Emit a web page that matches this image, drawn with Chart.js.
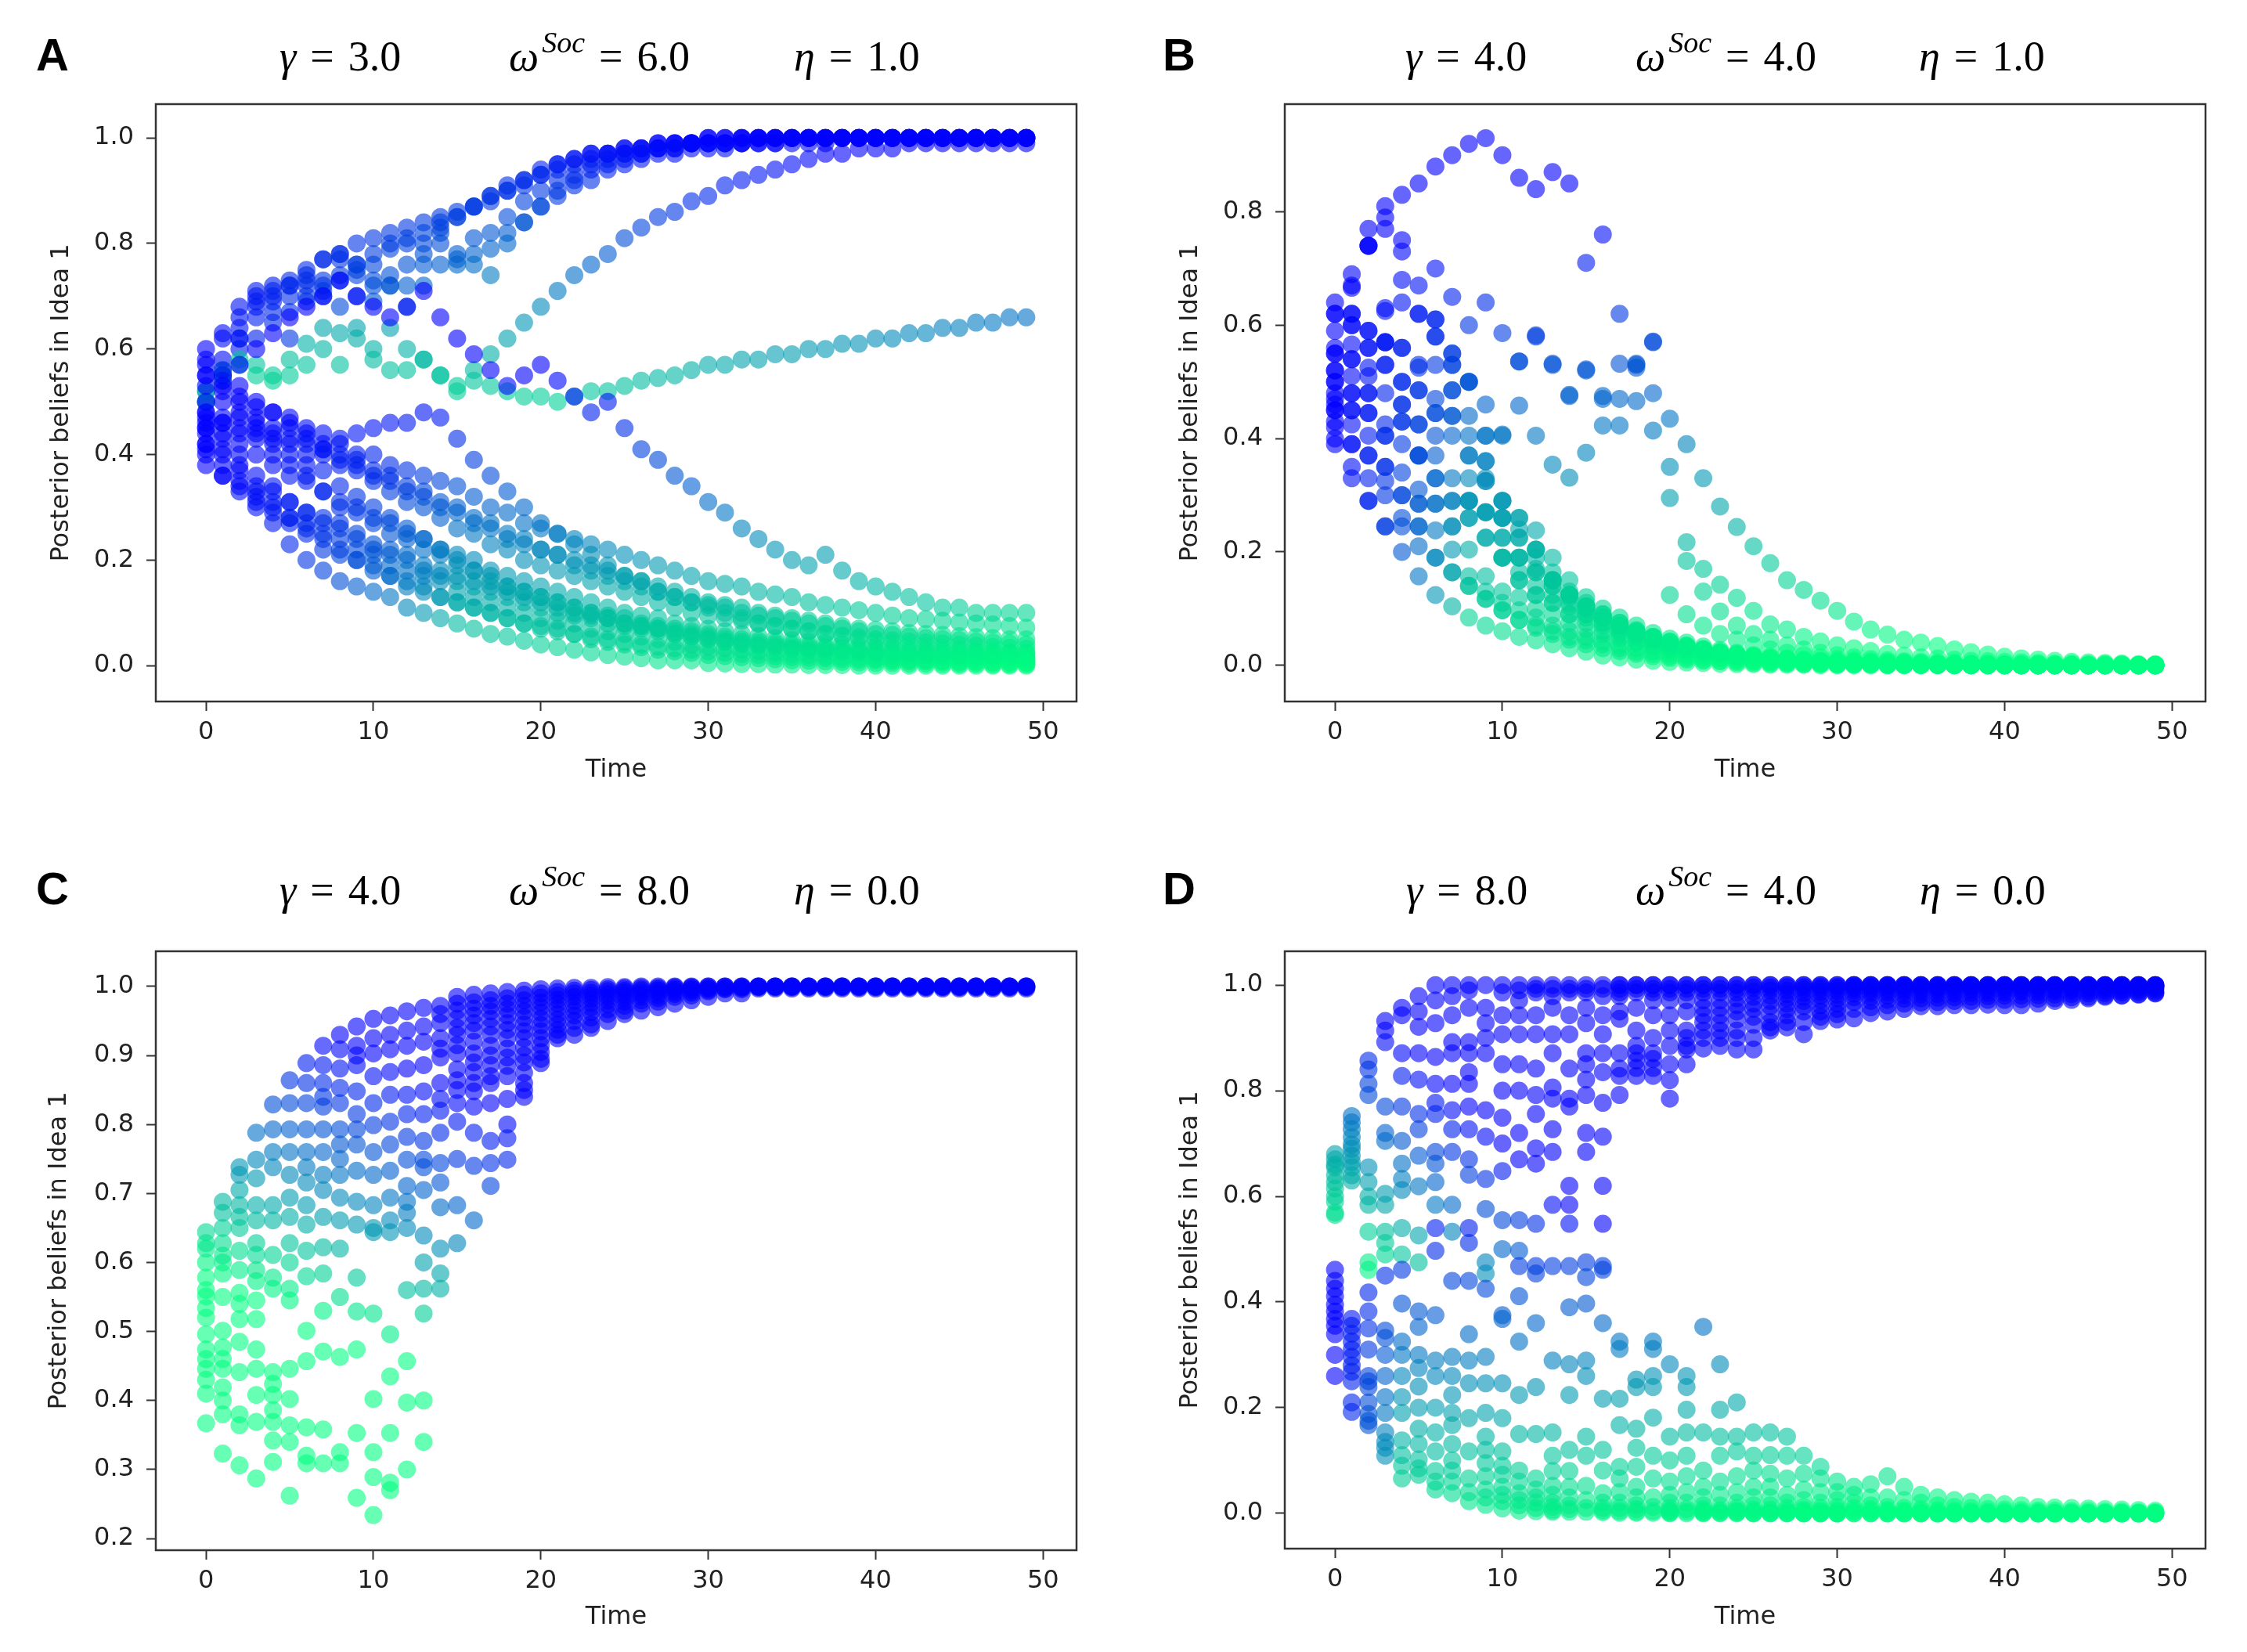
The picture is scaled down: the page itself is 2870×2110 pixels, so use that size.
<!DOCTYPE html>
<html>
<head>
<meta charset="utf-8">
<script src="https://cdn.jsdelivr.net/npm/chart.js@4.4.1/dist/chart.umd.min.js"></script>
<style>
  html, body { margin: 0; padding: 0; background: #fff; }
  #grid { position: relative; width: 2870px; height: 2110px; }
  .cell { position: absolute; width: 1435px; height: 1055px; }
</style>
</head>
<body>
<div id="grid">
  <div class="cell" style="left:0;top:0"><canvas id="panelA"></canvas></div>
  <div class="cell" style="left:1435px;top:0"><canvas id="panelB"></canvas></div>
  <div class="cell" style="left:0;top:1055px"><canvas id="panelC"></canvas></div>
  <div class="cell" style="left:1435px;top:1055px"><canvas id="panelD"></canvas></div>
</div>
<script>
"use strict";

// ---- data ----
const timeSteps = [0,1,2,3,4,5,6,7,8,9,10,11,12,13,14,15,16,17,18,19,20,21,22,23,24,25,26,27,28,29,30,31,32,33,34,35,36,37,38,39,40,41,42,43,44,45,46,47,48,49];
const timeTicks = [0, 10, 20, 30, 40, 50];
const ticksA = [0.0, 0.2, 0.4, 0.6, 0.8, 1.0];
const ticksB = [0.0, 0.2, 0.4, 0.6, 0.8];
const ticksC = [0.2, 0.3, 0.4, 0.5, 0.6, 0.7, 0.8, 0.9, 1.0];
const ticksD = [0.0, 0.2, 0.4, 0.6, 0.8, 1.0];

const panelLetters = ['A', 'B', 'C', 'D'];
const gammaValues = ['3.0', '4.0', '4.0', '8.0'];
const omegaValues = ['6.0', '4.0', '8.0', '4.0'];
const etaValues = ['1.0', '1.0', '0.0', '0.0'];

// panel A: one row per agent, one value per time step
const riseAgentsA = [
  [0.50,0.63,0.68,0.71,0.71,0.73,0.74,0.77,0.78,0.80, 0.81,0.82,0.83,0.84,0.85,0.86,0.87,0.89,0.91,0.92, 0.94,0.95,0.96,0.97,0.97,0.98,0.98,0.99,0.99,0.99, 1,1,1,1,1,1,1,1,1,1, 1,1,1,1,1,1,1,1,1,1],
  [0.55,0.58,0.66,0.70,0.69,0.72,0.73,0.70,0.77,0.75, 0.72,0.72,0.76,0.80,0.83,0.85,0.87,0.88,0.90,0.91, 0.93,0.94,0.95,0.96,0.97,0.97,0.98,0.98,0.99,0.99, 0.99,0.99,1,1,1,1,1,1,1,1, 1,1,1,1,1,1,1,1,1,1],
  [0.45,0.55,0.62,0.66,0.67,0.62,0.69,0.77,0.73,0.70, 0.69,0.72,0.68,0.72,0.76,0.76,0.78,0.82,0.85,0.88, 0.90,0.92,0.93,0.95,0.96,0.97,0.97,0.98,0.98,0.99, 0.99,0.99,0.99,0.99,0.99,1,1,1,1,1, 1,1,1,1,1,1,1,1,1,1],
  [0.52,0.55,0.60,0.62,0.65,0.67,0.70,0.71,0.74,0.76, 0.78,0.79,0.80,0.78,0.82,0.78,0.81,0.79,0.82,0.84, 0.87,0.89,0.91,0.92,0.94,0.95,0.96,0.97,0.97,0.98, 0.98,0.98,0.99,0.99,0.99,0.99,0.99,0.99,1,1, 1,1,1,1,1,1,1,1,1,1],
  [0.48,0.55,0.62,0.68,0.70,0.72,0.75,0.73,0.78,0.76, 0.73,0.74,0.72,0.76,0.80,0.77,0.76,0.74,0.80,0.84, 0.87,0.90,0.92,0.94,0.95,0.96,0.97,0.98,0.98,0.99, 0.99,0.99,0.99,1,1,1,1,1,1,1, 1,1,1,1,1,1,1,1,1,1],
  [0.58,0.62,0.64,0.69,0.72,0.70,0.72,0.72,0.68,0.74, 0.76,0.80,0.81,0.82,0.84,0.85,0.87,0.89,0.90,0.92, 0.93,0.95,0.96,0.97,0.97,0.98,0.98,0.99,0.99,0.99, 1,1,1,1,1,1,1,1,1,1, 1,1,1,1,1,1,1,1,1,1]
];
const driftAgentsA = [
  [0.52,0.56,0.58,0.57,0.55,0.58,0.61,0.64,0.63,0.64, 0.60,0.64,0.60,0.58,0.55,0.53,0.56,0.59,0.62,0.65, 0.68,0.71,0.74,0.76,0.78,0.81,0.83,0.85,0.86,0.88, 0.89,0.91,0.92,0.93,0.94,0.95,0.96,0.97,0.97,0.98, 0.98,0.98,0.99,0.99,0.99,0.99,0.99,0.99,0.99,0.99],
  [0.50,0.54,0.57,0.55,0.54,0.55,0.57,0.60,0.57,0.62, 0.58,0.56,0.56,0.58,0.55,0.52,0.54,0.53,0.52,0.51, 0.51,0.50,0.51,0.52,0.52,0.53,0.54,0.545,0.55,0.56, 0.57,0.57,0.58,0.58,0.59,0.59,0.60,0.60,0.61,0.61, 0.62,0.62,0.63,0.63,0.64,0.64,0.65,0.65,0.66,0.66]
];
const fallAgentsA = [
  [0.47,0.53,0.57,0.60,0.63,0.66,0.68,0.70,0.73,0.70, 0.68,0.66,0.68,0.71,0.66,0.62,0.59,0.56,0.53,0.55, 0.57,0.54,0.51,0.48,0.50,0.45,0.41,0.39,0.36,0.34, 0.31,0.29,0.26,0.24,0.22,0.20,0.19,0.21,0.18,0.16, 0.15,0.14,0.13,0.12,0.11,0.11,0.10,0.10,0.10,0.10],
  [0.42,0.38,0.35,0.31,0.27,0.23,0.20,0.18,0.16,0.15, 0.14,0.13,0.11,0.10,0.09,0.08,0.07,0.06,0.055,0.047, 0.04,0.035,0.03,0.025,0.02,0.017,0.014,0.01,0.01,0.01, 0.005,0.004,0.003,0.003,0.002,0.002,0.001,0.001,0.001,0, 0,0,0,0,0,0,0,0,0,0],
  [0.45,0.41,0.38,0.34,0.30,0.28,0.26,0.24,0.22,0.20, 0.19,0.17,0.16,0.15,0.13,0.12,0.11,0.10,0.09,0.08, 0.07,0.065,0.06,0.05,0.045,0.04,0.035,0.03,0.027,0.024, 0.02,0.018,0.016,0.014,0.012,0.01,0.009,0.008,0.007,0.006, 0.005,0.005,0.004,0.004,0.003,0.003,0.003,0.002,0.002,0.002],
  [0.40,0.43,0.40,0.36,0.33,0.31,0.29,0.27,0.26,0.24, 0.22,0.21,0.20,0.18,0.17,0.16,0.15,0.14,0.13,0.12, 0.11,0.10,0.095,0.09,0.08,0.075,0.07,0.065,0.06,0.055, 0.05,0.046,0.042,0.039,0.036,0.033,0.03,0.028,0.026,0.024, 0.022,0.02,0.019,0.018,0.017,0.016,0.015,0.014,0.013,0.012],
  [0.48,0.46,0.45,0.43,0.44,0.42,0.43,0.41,0.42,0.40, 0.40,0.38,0.37,0.36,0.35,0.34,0.32,0.30,0.29,0.27, 0.26,0.25,0.24,0.23,0.22,0.21,0.20,0.19,0.18,0.17, 0.16,0.155,0.15,0.14,0.135,0.13,0.12,0.115,0.11,0.105, 0.10,0.095,0.09,0.088,0.085,0.082,0.08,0.078,0.075,0.072],
  [0.53,0.50,0.48,0.47,0.45,0.46,0.44,0.42,0.40,0.38, 0.36,0.35,0.33,0.32,0.30,0.29,0.27,0.26,0.24,0.23, 0.22,0.21,0.19,0.18,0.17,0.16,0.15,0.14,0.13,0.12, 0.115,0.11,0.10,0.095,0.09,0.085,0.08,0.075,0.07,0.065, 0.06,0.058,0.055,0.052,0.05,0.048,0.046,0.044,0.042,0.04],
  [0.44,0.47,0.44,0.40,0.38,0.36,0.35,0.33,0.31,0.30, 0.28,0.27,0.25,0.24,0.22,0.21,0.20,0.18,0.17,0.16, 0.15,0.14,0.13,0.12,0.11,0.10,0.095,0.09,0.08,0.075, 0.07,0.065,0.06,0.056,0.052,0.048,0.045,0.042,0.04,0.037, 0.035,0.033,0.031,0.03,0.028,0.027,0.026,0.025,0.024,0.023],
  [0.55,0.52,0.50,0.46,0.43,0.40,0.38,0.37,0.34,0.32, 0.30,0.28,0.26,0.24,0.22,0.20,0.18,0.17,0.15,0.14, 0.13,0.12,0.11,0.10,0.09,0.08,0.075,0.07,0.06,0.055, 0.05,0.045,0.04,0.037,0.034,0.031,0.028,0.026,0.024,0.022, 0.02,0.018,0.017,0.016,0.015,0.014,0.013,0.012,0.011,0.01],
  [0.38,0.36,0.33,0.30,0.29,0.27,0.25,0.22,0.21,0.20, 0.18,0.17,0.15,0.14,0.13,0.12,0.11,0.10,0.09,0.08, 0.075,0.07,0.06,0.055,0.05,0.045,0.04,0.036,0.033,0.03, 0.027,0.024,0.022,0.02,0.018,0.016,0.015,0.014,0.012,0.011, 0.01,0.009,0.008,0.008,0.007,0.006,0.006,0.005,0.005,0.005],
  [0.50,0.46,0.42,0.44,0.40,0.38,0.36,0.33,0.30,0.29, 0.27,0.25,0.24,0.22,0.21,0.19,0.18,0.16,0.15,0.14, 0.13,0.12,0.11,0.10,0.095,0.09,0.08,0.075,0.07,0.065, 0.06,0.055,0.05,0.047,0.044,0.041,0.038,0.035,0.033,0.031, 0.029,0.027,0.025,0.024,0.022,0.021,0.02,0.019,0.018,0.017],
  [0.57,0.54,0.51,0.49,0.48,0.45,0.42,0.40,0.39,0.37, 0.35,0.33,0.31,0.30,0.28,0.26,0.25,0.23,0.22,0.20, 0.19,0.18,0.17,0.16,0.15,0.14,0.13,0.12,0.11,0.10, 0.095,0.09,0.085,0.08,0.075,0.07,0.065,0.06,0.057,0.054, 0.05,0.048,0.046,0.044,0.042,0.04,0.038,0.036,0.034,0.032],
  [0.46,0.44,0.47,0.45,0.42,0.43,0.40,0.41,0.38,0.39, 0.37,0.36,0.34,0.33,0.31,0.30,0.28,0.27,0.25,0.24, 0.22,0.21,0.20,0.19,0.18,0.17,0.16,0.15,0.14,0.13, 0.12,0.115,0.11,0.10,0.095,0.09,0.085,0.08,0.075,0.07, 0.068,0.065,0.062,0.06,0.058,0.056,0.054,0.052,0.05,0.05],
  [0.60,0.56,0.53,0.50,0.48,0.47,0.45,0.44,0.43,0.44, 0.45,0.46,0.46,0.48,0.47,0.43,0.39,0.36,0.33,0.30, 0.27,0.25,0.23,0.21,0.19,0.17,0.16,0.14,0.13,0.12, 0.11,0.10,0.09,0.08,0.075,0.07,0.065,0.06,0.055,0.05, 0.046,0.043,0.04,0.037,0.034,0.032,0.03,0.028,0.026,0.025],
  [0.42,0.40,0.37,0.33,0.31,0.28,0.27,0.25,0.24,0.22, 0.21,0.19,0.18,0.17,0.16,0.14,0.13,0.12,0.11,0.10, 0.09,0.085,0.08,0.07,0.065,0.06,0.055,0.05,0.045,0.04, 0.036,0.033,0.03,0.027,0.024,0.022,0.02,0.018,0.016,0.015, 0.013,0.012,0.011,0.01,0.009,0.008,0.008,0.007,0.007,0.006],
  [0.41,0.36,0.34,0.32,0.34,0.31,0.29,0.28,0.27,0.25, 0.23,0.22,0.21,0.19,0.18,0.17,0.16,0.15,0.14,0.13, 0.12,0.11,0.10,0.095,0.09,0.08,0.075,0.07,0.065,0.06, 0.055,0.05,0.046,0.043,0.04,0.037,0.034,0.032,0.03,0.028, 0.026,0.024,0.022,0.021,0.02,0.019,0.018,0.017,0.016,0.015]
];

// panel B: one row per agent
const slowAgentsB = [
  [0.62,0.69,0.74,0.79,0.83,0.85,0.88,0.90,0.92,0.93, 0.90,0.86,0.84,0.87,0.85,0.71,0.76,0.62,0.53,0.57, 0.435,0.39,0.33,0.28,0.244,0.21,0.18,0.15,0.133,0.114, 0.096,0.077,0.063,0.054,0.045,0.04,0.034,0.028,0.023,0.019, 0.015,0.012,0.01,0.008,0.006,0.005,0.004,0.003,0.002,0.002],
  [0.55,0.62,0.77,0.81,0.75,0.67,0.61,0.65,0.60,0.64, 0.586,0.536,0.58,0.53,0.477,0.52,0.47,0.47,0.466,0.48, 0.35,0.217,0.17,0.142,0.119,0.096,0.072,0.063,0.05,0.042, 0.035,0.03,0.025,0.02,0.017,0.014,0.012,0.01,0.008,0.007, 0.006,0.005,0.004,0.003,0.003,0.002,0.002,0.002,0.001,0.001],
  [0.50,0.67,0.74,0.77,0.73,0.62,0.58,0.55,0.50,0.46, 0.407,0.458,0.405,0.354,0.331,0.375,0.423,0.423,0.525,0.414, 0.295,0.184,0.13,0.095,0.07,0.055,0.045,0.035,0.028,0.022, 0.018,0.014,0.011,0.009,0.007,0.006,0.005,0.004,0.003,0.003, 0.002,0.002,0.002,0.001,0.001,0.001,0.001,0,0,0],
  [0.45,0.60,0.59,0.63,0.68,0.62,0.70,0.53,0.50,0.405, 0.405,0.536,0.582,0.532,0.475,0.522,0.475,0.532,0.532,0.571, 0.124,0.09,0.07,0.055,0.045,0.035,0.028,0.022,0.018,0.014, 0.011,0.009,0.007,0.006,0.005,0.004,0.003,0.003,0.002,0.002, 0.001,0.001,0.001,0.001,0,0,0,0,0,0]
];
const fastAgentsB = [
  [0.40,0.33,0.29,0.245,0.20,0.157,0.124,0.104,0.084,0.07, 0.06,0.05,0.044,0.037,0.03,0.024,0.017,0.014,0.01,0.008, 0.006,0.005,0.004,0.003,0.002,0.002,0.001,0.001,0.001,0, 0,0,0,0,0,0,0,0,0,0, 0,0,0,0,0,0,0,0,0,0],
  [0.42,0.35,0.33,0.30,0.26,0.21,0.19,0.164,0.14,0.117, 0.097,0.08,0.07,0.06,0.05,0.044,0.037,0.03,0.024,0.02, 0.016,0.013,0.01,0.008,0.007,0.006,0.005,0.004,0.003,0.003, 0.002,0.002,0.002,0.001,0.001,0.001,0.001,0,0,0, 0,0,0,0,0,0,0,0,0,0],
  [0.45,0.39,0.37,0.35,0.30,0.245,0.238,0.204,0.157,0.13, 0.11,0.097,0.084,0.07,0.06,0.05,0.042,0.035,0.03,0.025, 0.02,0.017,0.014,0.012,0.01,0.008,0.007,0.006,0.005,0.004, 0.003,0.003,0.002,0.002,0.002,0.001,0.001,0.001,0,0, 0,0,0,0,0,0,0,0,0,0],
  [0.46,0.425,0.405,0.325,0.34,0.285,0.285,0.245,0.204,0.157, 0.13,0.12,0.10,0.09,0.075,0.064,0.055,0.047,0.04,0.034, 0.028,0.024,0.02,0.017,0.014,0.012,0.01,0.008,0.007,0.006, 0.005,0.004,0.003,0.003,0.002,0.002,0.002,0.001,0.001,0.001, 0.001,0,0,0,0,0,0,0,0,0],
  [0.48,0.45,0.445,0.405,0.39,0.31,0.33,0.29,0.26,0.225, 0.19,0.15,0.124,0.11,0.09,0.084,0.07,0.057,0.044,0.037, 0.03,0.026,0.022,0.018,0.015,0.012,0.01,0.008,0.007,0.006, 0.005,0.004,0.003,0.003,0.002,0.002,0.001,0.001,0.001,0.001, 0,0,0,0,0,0,0,0,0,0],
  [0.50,0.48,0.48,0.425,0.43,0.37,0.37,0.33,0.29,0.27, 0.26,0.225,0.204,0.15,0.124,0.104,0.084,0.07,0.057,0.045, 0.037,0.03,0.025,0.02,0.016,0.013,0.01,0.008,0.007,0.006, 0.005,0.004,0.003,0.003,0.002,0.002,0.001,0.001,0.001,0.001, 0,0,0,0,0,0,0,0,0,0],
  [0.52,0.51,0.525,0.48,0.46,0.425,0.405,0.405,0.37,0.325, 0.29,0.26,0.238,0.19,0.15,0.12,0.10,0.084,0.07,0.057, 0.047,0.04,0.033,0.027,0.022,0.018,0.015,0.012,0.01,0.008, 0.007,0.006,0.005,0.004,0.003,0.003,0.002,0.002,0.002,0.001, 0.001,0.001,0.001,0,0,0,0,0,0,0],
  [0.55,0.54,0.56,0.53,0.50,0.485,0.445,0.44,0.33,0.36, 0.26,0.19,0.164,0.15,0.124,0.10,0.084,0.07,0.057,0.047, 0.038,0.031,0.026,0.021,0.017,0.014,0.011,0.009,0.007,0.006, 0.005,0.004,0.003,0.003,0.002,0.002,0.001,0.001,0.001,0.001, 0,0,0,0,0,0,0,0,0,0],
  [0.56,0.566,0.59,0.57,0.56,0.525,0.53,0.485,0.44,0.325, 0.225,0.19,0.164,0.14,0.11,0.09,0.075,0.06,0.05,0.04, 0.033,0.027,0.022,0.018,0.015,0.012,0.01,0.008,0.006,0.005, 0.004,0.003,0.003,0.002,0.002,0.001,0.001,0.001,0,0, 0,0,0,0,0,0,0,0,0,0],
  [0.59,0.60,0.48,0.405,0.50,0.425,0.47,0.53,0.405,0.36, 0.26,0.225,0.204,0.15,0.124,0.104,0.09,0.075,0.06,0.05, 0.04,0.033,0.027,0.022,0.018,0.015,0.012,0.01,0.008,0.007, 0.006,0.005,0.004,0.003,0.003,0.002,0.002,0.001,0.001,0.001, 0.001,0,0,0,0,0,0,0,0,0],
  [0.62,0.54,0.445,0.57,0.46,0.37,0.445,0.44,0.29,0.27, 0.19,0.15,0.124,0.11,0.09,0.075,0.06,0.05,0.04,0.032, 0.026,0.021,0.017,0.014,0.011,0.009,0.007,0.006,0.005,0.004, 0.003,0.003,0.002,0.002,0.001,0.001,0.001,0,0,0, 0,0,0,0,0,0,0,0,0,0],
  [0.64,0.62,0.56,0.625,0.56,0.485,0.58,0.55,0.50,0.405, 0.29,0.26,0.204,0.164,0.13,0.11,0.09,0.075,0.062,0.05, 0.042,0.035,0.029,0.024,0.02,0.016,0.013,0.011,0.009,0.007, 0.006,0.005,0.004,0.003,0.003,0.002,0.002,0.001,0.001,0.001, 0.001,0,0,0,0,0,0,0,0,0],
  [0.39,0.39,0.37,0.35,0.30,0.285,0.19,0.164,0.14,0.117, 0.097,0.08,0.066,0.055,0.045,0.037,0.03,0.025,0.02,0.016, 0.013,0.01,0.008,0.007,0.005,0.004,0.003,0.003,0.002,0.002, 0.001,0.001,0.001,0,0,0,0,0,0,0, 0,0,0,0,0,0,0,0,0,0],
  [0.43,0.45,0.29,0.245,0.245,0.245,0.285,0.245,0.26,0.225, 0.19,0.164,0.14,0.124,0.104,0.09,0.075,0.064,0.053,0.044, 0.036,0.03,0.025,0.02,0.017,0.014,0.011,0.009,0.007,0.006, 0.005,0.004,0.003,0.003,0.002,0.002,0.001,0.001,0.001,0.001, 0,0,0,0,0,0,0,0,0,0],
  [0.47,0.48,0.51,0.53,0.43,0.37,0.33,0.29,0.29,0.27, 0.225,0.19,0.17,0.14,0.12,0.10,0.084,0.07,0.06,0.05, 0.041,0.034,0.028,0.023,0.019,0.015,0.012,0.01,0.008,0.007, 0.006,0.005,0.004,0.003,0.003,0.002,0.002,0.001,0.001,0.001, 0,0,0,0,0,0,0,0,0,0],
  [0.52,0.666,0.74,0.57,0.64,0.53,0.61,0.485,0.37,0.33, 0.29,0.24,0.19,0.15,0.124,0.104,0.084,0.07,0.057,0.047, 0.038,0.031,0.026,0.021,0.017,0.014,0.011,0.009,0.007,0.006, 0.005,0.004,0.003,0.003,0.002,0.002,0.001,0.001,0.001,0.001, 0,0,0,0,0,0,0,0,0,0]
];

// panel C: one list of visible beliefs per time step
const beliefColumnsC = [
  [0.644,0.628,0.62,0.60,0.578,0.56,0.551,0.534,0.52,0.496,0.474,0.46,0.446,0.43,0.41,0.367],
  [0.688,0.672,0.65,0.628,0.61,0.60,0.584,0.55,0.501,0.477,0.46,0.446,0.419,0.40,0.38,0.323],
  [0.738,0.727,0.705,0.683,0.666,0.65,0.617,0.589,0.556,0.54,0.518,0.485,0.441,0.38,0.364,0.306],
  [0.788,0.749,0.722,0.683,0.661,0.628,0.611,0.589,0.573,0.545,0.518,0.474,0.446,0.408,0.369,0.287],
  [0.829,0.793,0.76,0.738,0.683,0.661,0.611,0.578,0.562,0.441,0.424,0.408,0.386,0.369,0.342,0.311],
  [0.864,0.831,0.793,0.76,0.727,0.694,0.666,0.628,0.60,0.562,0.545,0.446,0.402,0.364,0.34,0.262],
  [0.889,0.86,0.831,0.793,0.76,0.738,0.716,0.683,0.655,0.617,0.58,0.501,0.457,0.361,0.32,0.309],
  [0.914,0.886,0.86,0.84,0.826,0.793,0.76,0.727,0.705,0.666,0.622,0.584,0.53,0.471,0.358,0.309],
  [0.93,0.909,0.881,0.853,0.831,0.793,0.771,0.75,0.727,0.694,0.661,0.62,0.55,0.463,0.325,0.309],
  [0.942,0.914,0.90,0.886,0.848,0.815,0.793,0.771,0.733,0.688,0.655,0.578,0.529,0.474,0.353,0.259],
  [0.953,0.925,0.903,0.87,0.831,0.799,0.76,0.727,0.683,0.65,0.644,0.526,0.402,0.325,0.289,0.234],
  [0.958,0.93,0.909,0.876,0.843,0.804,0.771,0.733,0.694,0.661,0.644,0.496,0.435,0.353,0.281,0.27],
  [0.964,0.936,0.914,0.881,0.843,0.815,0.782,0.749,0.711,0.688,0.672,0.65,0.56,0.457,0.397,0.30],
  [0.969,0.942,0.92,0.886,0.848,0.815,0.776,0.749,0.738,0.705,0.639,0.60,0.562,0.526,0.40,0.34],
  [0.972,0.96,0.947,0.925,0.91,0.897,0.86,0.837,0.82,0.788,0.744,0.716,0.68,0.62,0.584,0.562],
  [0.985,0.975,0.965,0.953,0.94,0.93,0.915,0.903,0.88,0.864,0.85,0.831,0.804,0.75,0.683,0.628],
  [0.988,0.977,0.968,0.958,0.947,0.936,0.92,0.903,0.89,0.876,0.86,0.848,0.826,0.788,0.74,0.661],
  [0.99,0.98,0.972,0.964,0.953,0.942,0.93,0.914,0.90,0.886,0.87,0.86,0.831,0.776,0.744,0.711],
  [0.992,0.983,0.975,0.967,0.958,0.947,0.937,0.925,0.91,0.897,0.885,0.87,0.837,0.80,0.78,0.749],
  [0.994,0.988,0.98,0.972,0.964,0.955,0.945,0.935,0.925,0.912,0.90,0.89,0.875,0.86,0.85,0.84],
  [0.996,0.99,0.984,0.977,0.97,0.962,0.953,0.944,0.935,0.925,0.915,0.905,0.895,0.889],
  [0.997,0.992,0.987,0.981,0.975,0.968,0.96,0.952,0.945,0.937,0.93,0.925],
  [0.998,0.994,0.99,0.985,0.979,0.972,0.965,0.958,0.95,0.94,0.93],
  [0.998,0.995,0.991,0.987,0.982,0.976,0.97,0.963,0.955,0.945,0.94],
  [0.999,0.996,0.993,0.989,0.985,0.98,0.974,0.967,0.96,0.95],
  [0.999,0.997,0.994,0.991,0.987,0.983,0.978,0.972,0.965,0.96],
  [1,0.998,0.995,0.992,0.989,0.985,0.98,0.975,0.965],
  [1,0.998,0.996,0.994,0.991,0.987,0.983,0.978,0.97],
  [1,0.999,0.997,0.995,0.992,0.989,0.985,0.975],
  [1,0.999,0.998,0.996,0.994,0.991,0.987,0.98],
  [1,1,0.998,0.997,0.995,0.993,0.985],
  [1,1,0.999,0.997,0.996,0.99],
  [1,1,0.999,0.998,0.996,0.99],
  [1,1,1,0.999,0.997],[1,1,1,0.999,0.997],[1,1,1,0.999,0.997],[1,1,1,0.999,0.997],
  [1,1,1,0.999,0.997],[1,1,1,0.999,0.997],[1,1,1,0.999,0.997],[1,1,1,0.999,0.997],
  [1,1,1,0.999,0.997],[1,1,1,0.999,0.997],[1,1,1,0.999,0.997],[1,1,1,0.999,0.997],
  [1,1,1,0.999,0.997],[1,1,1,0.999,0.997],[1,1,1,0.999,0.997],[1,1,1,0.999,0.997],
  [1,1,1,0.999,0.997]
];

// panel D: visible beliefs per time step, for agents heading to 1 and to 0
const upperColumnsD = [
  [0.68,0.67,0.66,0.655,0.64,0.627,0.615,0.60,0.59,0.569,0.565],
  [0.752,0.74,0.727,0.712,0.698,0.69,0.677,0.665,0.655,0.64,0.63],
  [0.857,0.84,0.813,0.792,0.655,0.627,0.60,0.584,0.533,0.475,0.461],
  [0.932,0.914,0.892,0.77,0.72,0.705,0.605,0.584,0.533,0.512,0.49],
  [0.957,0.943,0.871,0.828,0.77,0.705,0.662,0.633,0.612,0.54,0.49],
  [0.979,0.95,0.921,0.871,0.821,0.756,0.727,0.677,0.619,0.526,0.475],
  [1,0.971,0.928,0.864,0.813,0.777,0.756,0.684,0.662,0.627,0.584],
  [1,0.979,0.943,0.892,0.871,0.813,0.763,0.727,0.684,0.584,0.533],
  [1,0.99,0.957,0.892,0.871,0.835,0.813,0.77,0.727,0.67,0.641],
  [1,0.957,0.928,0.90,0.871,0.763,0.713,0.633,0.576,0.475,0.454],
  [1,0.986,0.943,0.907,0.85,0.80,0.749,0.70,0.648,0.555,0.50],
  [1,0.99,0.971,0.943,0.907,0.85,0.80,0.72,0.67,0.555,0.497],
  [1,0.993,0.986,0.943,0.907,0.842,0.792,0.756,0.691,0.662,0.548],
  [1,0.993,0.979,0.957,0.907,0.871,0.806,0.785,0.727,0.684,0.584],
  [1,0.993,0.986,0.943,0.907,0.842,0.785,0.77,0.62,0.584,0.548],
  [1,0.993,0.986,0.957,0.928,0.871,0.85,0.821,0.792,0.72,0.684],
  [1,0.993,0.979,0.943,0.907,0.871,0.835,0.777,0.713,0.62,0.548],
  [1,1,0.993,0.986,0.979,0.95,0.936,0.871,0.842,0.828,0.792],
  [1,1,0.993,0.986,0.957,0.914,0.885,0.871,0.857,0.843,0.828],
  [1,1,0.993,0.986,0.971,0.943,0.90,0.871,0.86,0.843,0.828],
  [1,1,0.993,0.986,0.971,0.943,0.914,0.885,0.85,0.82,0.785],
  [1,1,0.993,0.986,0.971,0.95,0.914,0.90,0.885,0.878,0.85],
  [1,1,0.993,0.986,0.971,0.957,0.943,0.93,0.914,0.90,0.88],
  [1,1,0.993,0.986,0.971,0.957,0.943,0.928,0.914,0.90,0.885],
  [1,1,0.993,0.986,0.975,0.962,0.95,0.935,0.914,0.90,0.878],
  [1,1,0.995,0.988,0.978,0.965,0.955,0.94,0.925,0.90,0.878],
  [1,1,0.995,0.99,0.98,0.97,0.96,0.945,0.93,0.92,0.914],
  [1,1,0.996,0.99,0.983,0.975,0.965,0.955,0.943,0.93,0.92],
  [1,1,0.996,0.992,0.985,0.978,0.97,0.96,0.95,0.93,0.907],
  [1,1,0.997,0.993,0.987,0.98,0.972,0.962,0.95,0.94,0.932],
  [1,1,0.997,0.994,0.989,0.982,0.975,0.965,0.955,0.945,0.935],
  [1,1,1,0.997,0.994,0.99,0.984,0.977,0.968,0.955,0.937],
  [1,1,1,0.997,0.994,0.99,0.985,0.978,0.97,0.958,0.947],
  [1,1,1,0.998,0.995,0.991,0.986,0.98,0.972,0.962,0.95],
  [1,1,1,0.998,0.995,0.992,0.987,0.981,0.974,0.965,0.955],
  [1,1,1,0.998,0.996,0.992,0.988,0.982,0.975,0.967,0.96],
  [1,1,1,0.998,0.996,0.993,0.989,0.983,0.976,0.968,0.96],
  [1,1,1,0.998,0.996,0.993,0.989,0.984,0.977,0.97,0.962],
  [1,1,1,0.999,0.997,0.994,0.99,0.985,0.978,0.97,0.962],
  [1,1,1,0.999,0.997,0.994,0.99,0.985,0.979,0.972,0.963],
  [1,1,1,0.999,0.997,0.994,0.991,0.986,0.98,0.972,0.962],
  [1,1,1,0.999,0.997,0.995,0.991,0.987,0.98,0.973,0.962],
  [1,1,1,0.999,0.997,0.995,0.992,0.987,0.981,0.974,0.965],
  [1,1,1,0.999,0.998,0.995,0.992,0.988,0.982,0.975,0.97],
  [1,1,1,0.999,0.998,0.996,0.993,0.989,0.983,0.977,0.972],
  [1,1,1,0.999,0.998,0.996,0.993,0.989,0.984,0.978,0.975],
  [1,1,1,0.999,0.998,0.996,0.994,0.99,0.985,0.98,0.978],
  [1,1,1,0.999,0.998,0.997,0.994,0.99,0.986,0.981,0.98],
  [1,1,1,0.999,0.998,0.997,0.995,0.991,0.987,0.983,0.982],
  [1,1,1,0.999,0.998,0.997,0.995,0.992,0.988,0.985,0.984]
];
const lowerColumnsD = [
  [0.461,0.44,0.425,0.411,0.395,0.382,0.368,0.355,0.339,0.30,0.26],
  [0.368,0.355,0.34,0.325,0.31,0.296,0.28,0.268,0.25,0.21,0.192],
  [0.418,0.382,0.35,0.31,0.26,0.25,0.239,0.21,0.188,0.175,0.167],
  [0.45,0.346,0.332,0.30,0.26,0.22,0.19,0.153,0.135,0.124,0.109],
  [0.461,0.397,0.325,0.30,0.26,0.22,0.19,0.138,0.11,0.09,0.066],
  [0.382,0.353,0.30,0.275,0.24,0.20,0.16,0.131,0.102,0.085,0.073],
  [0.54,0.497,0.375,0.289,0.26,0.20,0.153,0.117,0.08,0.06,0.045],
  [0.44,0.296,0.26,0.224,0.19,0.167,0.131,0.10,0.081,0.06,0.038],
  [0.54,0.512,0.44,0.339,0.289,0.246,0.18,0.117,0.066,0.04,0.023],
  [0.425,0.296,0.246,0.19,0.145,0.12,0.095,0.07,0.045,0.03,0.016],
  [0.375,0.368,0.246,0.18,0.117,0.09,0.073,0.05,0.035,0.023,0.009],
  [0.468,0.411,0.325,0.224,0.15,0.081,0.06,0.038,0.025,0.015,0.005],
  [0.468,0.454,0.36,0.239,0.15,0.066,0.045,0.03,0.02,0.01,0.004],
  [0.468,0.289,0.153,0.109,0.08,0.052,0.035,0.02,0.012,0.006,0.003],
  [0.468,0.39,0.282,0.224,0.12,0.08,0.05,0.03,0.015,0.008,0.003],
  [0.475,0.447,0.397,0.289,0.26,0.145,0.109,0.052,0.025,0.01,0.003],
  [0.468,0.461,0.36,0.217,0.12,0.081,0.038,0.02,0.01,0.005,0.002],
  [0.325,0.311,0.217,0.167,0.088,0.066,0.04,0.02,0.01,0.004,0.001],
  [0.253,0.239,0.16,0.124,0.088,0.05,0.03,0.015,0.008,0.003,0.001],
  [0.325,0.311,0.26,0.239,0.181,0.109,0.066,0.03,0.012,0.004,0.001],
  [0.282,0.145,0.10,0.06,0.035,0.02,0.01,0.005,0.003,0.001,0],
  [0.26,0.239,0.196,0.153,0.109,0.07,0.04,0.02,0.008,0.003,0],
  [0.353,0.153,0.081,0.05,0.03,0.015,0.008,0.004,0.002,0.001,0],
  [0.282,0.196,0.145,0.109,0.06,0.035,0.015,0.006,0.003,0.001,0],
  [0.21,0.145,0.117,0.07,0.04,0.02,0.01,0.005,0.002,0.001,0],
  [0.153,0.109,0.081,0.05,0.03,0.015,0.007,0.003,0.001,0,0],
  [0.153,0.11,0.075,0.05,0.03,0.015,0.007,0.003,0.001,0,0],
  [0.145,0.109,0.066,0.035,0.02,0.01,0.005,0.002,0.001,0,0],
  [0.109,0.075,0.045,0.025,0.012,0.006,0.003,0.001,0,0,0],
  [0.088,0.066,0.04,0.02,0.01,0.005,0.002,0.001,0,0,0],
  [0.06,0.04,0.025,0.012,0.006,0.003,0.001,0,0,0,0],
  [0.05,0.035,0.02,0.01,0.005,0.002,0,0],
  [0.055,0.03,0.015,0.008,0.004,0.001,0,0],
  [0.07,0.03,0.012,0.006,0.003,0,0,0],
  [0.05,0.025,0.01,0.005,0.002,0,0,0],
  [0.035,0.02,0.008,0.004,0.001,0,0,0],
  [0.03,0.015,0.006,0.003,0,0,0,0],
  [0.025,0.012,0.005,0.002,0,0,0,0],
  [0.022,0.01,0.004,0.001,0,0,0,0],
  [0.02,0.008,0.003,0,0,0,0,0],
  [0.017,0.007,0.003,0,0,0,0,0],
  [0.015,0.006,0.002,0,0,0,0,0],
  [0.012,0.005,0.002,0,0,0,0,0],
  [0.011,0.005,0.001,0,0,0,0,0],
  [0.01,0.004,0.001,0,0,0,0,0],
  [0.009,0.004,0,0,0,0,0,0],
  [0.008,0.003,0,0,0,0,0,0],
  [0.007,0.003,0,0,0,0,0,0],
  [0.006,0.002,0,0,0,0,0,0],
  [0.005,0.002,0,0,0,0,0,0]
];

// ---- helpers ----
function agentPoints(agents) {
  const pts = [];
  agents.forEach(row => row.forEach((v, i) => pts.push({ x: timeSteps[i], y: v })));
  return pts;
}

function columnPoints(columns) {
  const pts = [];
  columns.forEach((col, i) => col.forEach(v => pts.push({ x: timeSteps[i], y: v })));
  return pts;
}

// matplotlib "winter": 0 -> blue, 1 -> spring green
function winter(g) {
  g = Math.max(0, Math.min(1, g));
  return 'rgba(0,' + Math.round(255 * g) + ',' + Math.round(255 - 127.5 * g) + ',0.6)';
}

function scatterSet(points, tone) {
  return {
    data: points,
    showLine: false,
    pointRadius: 11.5,
    pointBorderWidth: 0,
    pointBackgroundColor: points.map(p => winter(tone(p.x, p.y)))
  };
}

const clamp = g => Math.max(0, Math.min(1, g));
const toneRiseA = (t, v) => clamp((1 - v) * Math.min(t, 20) * 0.11);
const toneDriftA = (t, v) => clamp(0.9 - 1.6 * (v - 0.5) - 0.004 * t);
const toneFallA = (t, v) => clamp(0.8 - 1.6 * v + 0.004 * t) * Math.min(1, t / 15);
const toneB = (t, v) => clamp(0.9 - 1.2 * v + 0.004 * t) * Math.min(1, t / 8);
const toneC = (t, v) => clamp(2.4 * (1 - v) - 0.025 * t);
const toneUpD = (t, v) => clamp(2 * (1 - v) - 0.06 * t);
const toneLowD = (t, v) => clamp(0.9 - 1.5 * v + 0.003 * t) * Math.min(1, t / 4);

const TICK_FONT = { family: '"DejaVu Sans", sans-serif', size: 32 };
const INK = '#222';

// letter and parameter line above each panel, plus the closed axes frame
const panelText = {
  id: 'panelText',
  afterDatasetsDraw(chart) {
    const { ctx, chartArea: a } = chart;
    ctx.save();
    ctx.strokeStyle = '#333';
    ctx.lineWidth = 2.5;
    ctx.strokeRect(a.left, a.top, a.right - a.left, a.bottom - a.top);
    ctx.restore();
  },
  afterDraw(chart, args, o) {
    const ctx = chart.ctx;
    ctx.save();
    ctx.fillStyle = '#000';
    ctx.textBaseline = 'alphabetic';
    ctx.textAlign = 'left';
    ctx.font = 'bold 58px "Liberation Sans", Arial, sans-serif';
    ctx.fillText(o.letter, o.letterX, o.base);
    const plain = '54px "Liberation Serif", "Times New Roman", serif';
    const ital = 'italic 54px "Liberation Serif", "Times New Roman", serif';
    const sup = 'italic 38px "Liberation Serif", "Times New Roman", serif';
    o.params.forEach((p, i) => {
      let x = o.paramX[i];
      ctx.font = ital;
      ctx.fillText(p.sym, x, o.base);
      x += ctx.measureText(p.sym).width;
      if (p.sup) {
        ctx.font = sup;
        ctx.fillText(p.sup, x + 4, o.base - 23);
        x += ctx.measureText(p.sup).width + 4;
      }
      ctx.font = plain;
      x += 18;
      ctx.fillText('=', x, o.base);
      x += ctx.measureText('=').width + 18;
      ctx.fillText(p.val, x, o.base);
    });
    ctx.restore();
  }
};

function panelOptions(c) {
  return {
    responsive: true,
    maintainAspectRatio: false,
    animation: false,
    events: [],
    layout: { padding: { top: c.top, right: c.right, bottom: 0, left: 0 } },
    plugins: {
      legend: { display: false },
      tooltip: { enabled: false },
      panelText: { letter: c.letter, letterX: c.letterX, base: c.base, paramX: c.paramX, params: c.params }
    },
    scales: {
      x: {
        type: 'linear', min: -3, max: 52,
        afterBuildTicks: s => { s.ticks = timeTicks.map(v => ({ value: v })); },
        afterFit: s => { s.height = c.xHeight; },
        ticks: { font: TICK_FONT, color: INK, padding: 8, maxRotation: 0, callback: v => String(v) },
        grid: { drawOnChartArea: false, drawTicks: true, tickLength: 12, tickWidth: 2, tickColor: '#333' },
        border: { display: false },
        title: { display: true, text: 'Time', font: TICK_FONT, color: INK, padding: { top: 0, bottom: c.xTitlePad } }
      },
      y: {
        type: 'linear', min: c.yMin, max: c.yMax,
        afterBuildTicks: s => { s.ticks = c.yTicks.map(v => ({ value: v })); },
        afterFit: s => { s.width = c.left; },
        ticks: { font: TICK_FONT, color: INK, padding: 16, callback: v => v.toFixed(1) },
        grid: { drawOnChartArea: false, drawTicks: true, tickLength: 12, tickWidth: 2, tickColor: '#333' },
        border: { display: false },
        title: { display: true, text: 'Posterior beliefs in Idea 1', font: TICK_FONT, color: INK, padding: { top: c.yTitlePad, bottom: 0 } }
      }
    }
  };
}

function paramsFor(i) {
  return [
    { sym: 'γ', val: gammaValues[i] },
    { sym: 'ω', sup: 'Soc', val: omegaValues[i] },
    { sym: 'η', val: etaValues[i] }
  ];
}

const panels = [
  { id: 'panelA', letter: panelLetters[0], params: paramsFor(0), yMin: -0.068, yMax: 1.064, yTicks: ticksA,
    left: 199, right: 60, top: 133, xHeight: 159, yTitlePad: 59, xTitlePad: 52, base: 90, letterX: 46, paramX: [357, 650, 1014],
    datasets: [scatterSet(agentPoints(fallAgentsA), toneFallA), scatterSet(agentPoints(driftAgentsA), toneDriftA), scatterSet(agentPoints(riseAgentsA), toneRiseA)] },
  { id: 'panelB', letter: panelLetters[1], params: paramsFor(1), yMin: -0.064, yMax: 0.99, yTicks: ticksB,
    left: 206, right: 53, top: 133, xHeight: 159, yTitlePad: 66, xTitlePad: 52, base: 90, letterX: 50, paramX: [360, 654, 1016],
    datasets: [scatterSet(agentPoints(fastAgentsB), toneB), scatterSet(agentPoints(slowAgentsB), toneB)] },
  { id: 'panelC', letter: panelLetters[2], params: paramsFor(2), yMin: 0.183, yMax: 1.051, yTicks: ticksC,
    left: 199, right: 60, top: 160, xHeight: 130, yTitlePad: 56, xTitlePad: 25, base: 100, letterX: 46, paramX: [357, 650, 1014],
    datasets: [scatterSet(columnPoints(beliefColumnsC), toneC)] },
  { id: 'panelD', letter: panelLetters[3], params: paramsFor(3), yMin: -0.067, yMax: 1.064, yTicks: ticksD,
    left: 206, right: 53, top: 160, xHeight: 132, yTitlePad: 66, xTitlePad: 25, base: 100, letterX: 50, paramX: [361, 654, 1017],
    datasets: [scatterSet(columnPoints(lowerColumnsD), toneLowD), scatterSet(columnPoints(upperColumnsD), toneUpD)] }
];

panels.forEach(c => {
  new Chart(document.getElementById(c.id), {
    type: 'scatter',
    data: { datasets: c.datasets },
    options: panelOptions(c),
    plugins: [panelText]
  });
});
</script>
</body>
</html>
